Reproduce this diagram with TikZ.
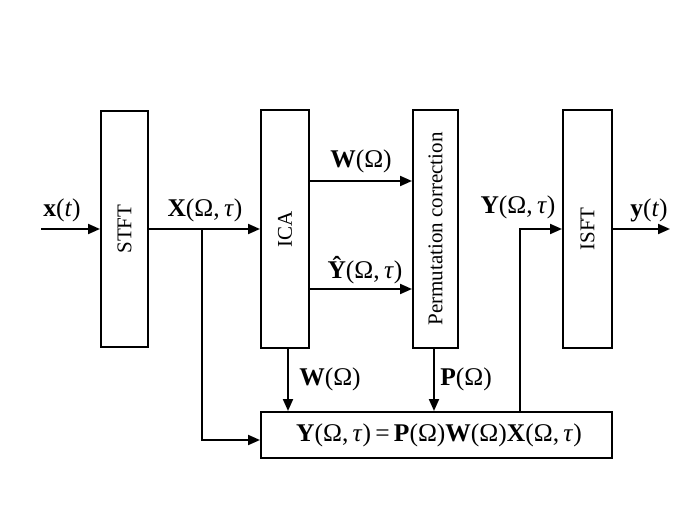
\documentclass[tikz,border=0pt]{standalone}
\usepackage{fontspec}
\setmainfont{Liberation Serif}
\usetikzlibrary{arrows.meta}
\begin{document}
\begin{tikzpicture}[x=1pt,y=1pt,
  blk/.style={draw,line width=2pt,inner sep=0pt},
  conn/.style={line width=2pt,-{Triangle[length=12pt,width=10pt]}},
  lbl/.style={font=\fontsize{25.5}{28}\selectfont,inner sep=0pt},
  btxt/.style={font=\fontsize{21}{23}\selectfont,rotate=90}]
\useasboundingbox (0,0) rectangle (685,-513);
\node[blk,minimum width=47pt,minimum height=236pt] (stft) at (124.5,-229) {};
\node[btxt] at (stft.center) {STFT};
\node[blk,minimum width=48pt,minimum height=238pt] (ica) at (285,-229) {};
\node[btxt] at (ica.center) {ICA};
\node[blk,minimum width=45pt,minimum height=238pt] (perm) at (435.5,-229) {};
\node[btxt] at (perm.center) {Permutation correction};
\node[blk,minimum width=49pt,minimum height=238pt] (isft) at (587.5,-229) {};
\node[btxt] at (isft.center) {ISFT};
\node[blk,minimum width=351pt,minimum height=46pt] (bot) at (436.5,-435) {};
\node[lbl] (eq) at (439,-435) {\textbf{Y}(Ω,\,\textit{τ})\,=\,\textbf{P}(Ω)\textbf{W}(Ω)\textbf{X}(Ω,\,\textit{τ})};

\coordinate (in) at (41,-229);
\coordinate (out) at (670,-229);
\coordinate (br) at (202,-229);
\coordinate (fb) at (520,-412);

\draw[conn] (in) -- (stft.west);
\draw[conn] (stft.east) -- (ica.west);
\draw[conn] (br) |- ([yshift=-5pt]bot.west);
\draw[conn] (ica.east |- 0,-181) -- (perm.west |- 0,-181);
\draw[conn] (ica.east |- 0,-289) -- (perm.west |- 0,-289);
\draw[conn] ([xshift=3pt]ica.south) -- ([xshift=3pt]ica.south |- bot.north);
\draw[conn] ([xshift=-1.5pt]perm.south) -- ([xshift=-1.5pt]perm.south |- bot.north);
\draw[conn] (fb) |- (isft.west);
\draw[conn] (isft.east) -- (out);

\node[lbl] (lx) at (62,-210) {\textbf{x}(\textit{t})};
\node[lbl] (lX) at (205,-210) {\textbf{X}(Ω,\,\textit{τ})};
\node[lbl] (lW1) at (361,-161) {\textbf{W}(Ω)};
\node[lbl] (lY1) at (365,-270) {\textbf{Ŷ}(Ω,\,\textit{τ})};
\node[lbl] (lW2) at (330,-379) {\textbf{W}(Ω)};
\node[lbl] (lP) at (466,-379) {\textbf{P}(Ω)};
\node[lbl] (lY2) at (518,-207) {\textbf{Y}(Ω,\,\textit{τ})};
\node[lbl] (ly) at (649,-210) {\textbf{y}(\textit{t})};
\end{tikzpicture}
\end{document}
